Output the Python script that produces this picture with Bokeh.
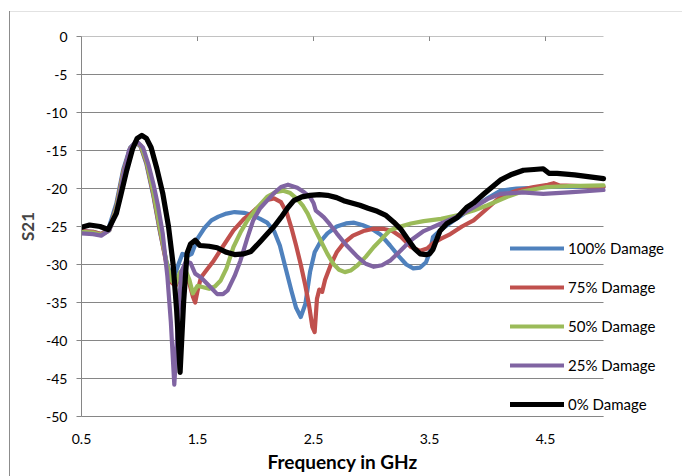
import math
from bokeh.plotting import figure
from bokeh.models import (FixedTicker, Legend, LegendItem, Range1d, Title)
from bokeh.embed import file_html
from bokeh.resources import INLINE

# ---------------- data ----------------
x_ticks = [0.5, 1.5, 2.5, 3.5, 4.5]
x_tick_labels = ["0.5", "1.5", "2.5", "3.5", "4.5"]
y_ticks = [0, -5, -10, -15, -20, -25, -30, -35, -40, -45, -50]
y_tick_labels = ["0", "-5", "-10", "-15", "-20", "-25", "-30", "-35", "-40", "-45", "-50"]
x_axis_min, x_axis_max = 0.5, 5.0

series_names = ["100% Damage", "75% Damage", "50% Damage", "25% Damage", "0% Damage"]

f_100 = [0.5, 0.6, 0.67, 0.73, 0.8, 0.86, 0.92, 0.97, 1.01, 1.06, 1.12, 1.18, 1.23, 1.27, 1.3,
         1.34, 1.37, 1.41, 1.45, 1.5, 1.56, 1.62, 1.68, 1.75, 1.82, 1.9, 1.97, 2.04, 2.1, 2.16,
         2.21, 2.26, 2.31, 2.35, 2.39, 2.43, 2.47, 2.51, 2.56, 2.62, 2.7, 2.78, 2.85, 2.92, 3.0,
         3.08, 3.16, 3.24, 3.3, 3.36, 3.42, 3.47, 3.5, 3.53, 3.6, 3.7, 3.8, 3.9, 4.0, 4.11, 4.25,
         4.4, 4.55, 4.7, 4.85, 5.0]
s_100 = [-25.6, -25.7, -26.0, -25.4, -22.0, -17.5, -14.6, -13.9, -14.5, -16.8, -21.0, -26.0,
         -29.5, -31.5, -31.6, -29.8, -28.6, -28.9, -28.6, -26.6, -25.2, -24.2, -23.7, -23.3,
         -23.1, -23.2, -23.5, -24.0, -24.5, -25.6, -27.5, -30.5, -33.5, -35.7, -36.9, -35.2,
         -31.0, -28.4, -27.0, -25.9, -25.0, -24.6, -24.5, -24.8, -25.3, -26.1, -27.5, -29.0,
         -30.0, -30.5, -30.4, -29.7, -28.5, -26.4, -25.4, -24.3, -23.3, -22.3, -21.3, -20.3,
         -20.0, -19.9, -19.8, -19.8, -19.8, -19.8]

f_75 = [0.5, 0.6, 0.67, 0.74, 0.8, 0.86, 0.92, 0.97, 1.01, 1.06, 1.12, 1.18, 1.23, 1.27, 1.31,
        1.35, 1.39, 1.43, 1.46, 1.48, 1.5, 1.53, 1.58, 1.64, 1.72, 1.81, 1.9, 1.96, 2.04, 2.1,
        2.16, 2.22, 2.27, 2.31, 2.35, 2.39, 2.43, 2.46, 2.49, 2.51, 2.53, 2.55, 2.575, 2.6, 2.65,
        2.7, 2.76, 2.84, 2.93, 3.02, 3.1, 3.18, 3.25, 3.34, 3.42, 3.48, 3.53, 3.6, 3.68, 3.78,
        3.88, 4.0, 4.11, 4.25, 4.4, 4.52, 4.57, 4.62, 4.8, 5.0]
s_75 = [-25.6, -25.7, -26.0, -25.4, -22.4, -17.8, -14.7, -13.9, -14.4, -16.6, -20.8, -25.8,
        -29.8, -32.3, -32.8, -31.5, -31.2, -32.5, -34.2, -35.0, -33.5, -31.7, -30.7, -29.5,
        -27.6, -25.5, -24.0, -23.3, -22.2, -21.5, -21.3, -21.8, -23.2, -25.2, -27.5, -30.0,
        -32.8, -35.2, -38.2, -38.9, -34.5, -33.3, -33.6, -32.0, -30.0, -28.4, -27.2, -26.2,
        -25.6, -25.3, -25.3, -25.6, -26.3, -27.7, -28.2, -27.9, -27.2, -26.6, -26.0, -25.0,
        -24.2, -22.6, -21.1, -20.3, -19.8, -19.5, -19.3, -19.6, -19.7, -19.8]

f_50 = [0.5, 0.6, 0.67, 0.74, 0.8, 0.86, 0.92, 0.97, 1.01, 1.06, 1.12, 1.18, 1.23, 1.27, 1.31,
        1.35, 1.39, 1.43, 1.46, 1.5, 1.55, 1.6, 1.65, 1.7, 1.75, 1.81, 1.87, 1.93, 2.0, 2.1,
        2.17, 2.24, 2.3, 2.36, 2.41, 2.45, 2.5, 2.56, 2.62, 2.67, 2.72, 2.77, 2.82, 2.88, 2.95,
        3.02, 3.09, 3.16, 3.25, 3.34, 3.45, 3.6, 3.75, 3.88, 4.0, 4.17, 4.3, 4.51, 4.7, 5.0]
s_50 = [-25.7, -25.8, -26.1, -25.5, -22.6, -18.0, -14.8, -13.9, -14.3, -16.4, -20.5, -25.5,
        -29.5, -32.0, -32.6, -31.0, -30.5, -32.0, -33.8, -32.8, -33.0, -33.2, -32.9, -32.1,
        -30.5, -27.7, -25.8, -24.2, -22.8, -21.1, -20.5, -20.3, -20.6, -21.4, -22.3, -23.3,
        -25.0, -26.8, -28.6, -29.9, -30.7, -31.0, -30.8, -30.1, -29.0, -27.7, -26.6, -25.5,
        -25.0, -24.6, -24.3, -24.0, -23.5, -22.9, -22.2, -21.1, -20.4, -19.8, -19.7, -19.6]

f_25 = [0.5, 0.6, 0.67, 0.74, 0.8, 0.86, 0.91, 0.97, 1.03, 1.08, 1.12, 1.16, 1.2, 1.24, 1.27,
        1.3, 1.33, 1.36, 1.4, 1.44, 1.48, 1.53, 1.6, 1.67, 1.72, 1.76, 1.82, 1.87, 1.93, 1.98,
        2.04, 2.1, 2.16, 2.22, 2.28, 2.36, 2.42, 2.47, 2.5, 2.52, 2.56, 2.59, 2.64, 2.7, 2.78,
        2.88, 2.95, 3.02, 3.09, 3.16, 3.25, 3.34, 3.45, 3.6, 3.75, 3.88, 4.0, 4.11, 4.3, 4.48,
        4.7, 5.0]
s_25 = [-25.9, -26.0, -26.2, -25.5, -23.0, -18.3, -15.0, -13.7, -14.6, -17.0, -19.4, -22.3,
        -25.9, -31.5, -37.5, -45.8, -38.0, -31.0, -29.6, -29.8, -31.2, -31.7, -32.8, -33.9,
        -33.9, -33.4, -31.5, -29.5, -26.5, -24.2, -22.6, -21.6, -20.6, -19.8, -19.5, -19.9,
        -20.5, -21.1, -21.9, -22.9, -23.4, -23.8, -24.7, -25.9, -27.4, -29.0, -29.9, -30.3,
        -30.1, -29.5, -28.2, -26.8, -25.6, -24.6, -23.6, -22.5, -21.4, -20.7, -20.5, -20.7,
        -20.5, -20.2]

f_0 = [0.5, 0.57, 0.66, 0.73, 0.8, 0.84, 0.89, 0.94, 0.98, 1.02, 1.06, 1.1, 1.15, 1.2, 1.25,
       1.29, 1.32, 1.35, 1.38, 1.41, 1.44, 1.48, 1.52, 1.6, 1.67, 1.75, 1.82, 1.9, 1.96, 2.04,
       2.1, 2.16, 2.22, 2.28, 2.33, 2.4, 2.47, 2.55, 2.62, 2.7, 2.76, 2.83, 2.9, 2.97, 3.05,
       3.12, 3.19, 3.25, 3.31, 3.37, 3.42, 3.47, 3.5, 3.53, 3.56, 3.59, 3.65, 3.74, 3.82, 3.88,
       3.97, 4.04, 4.11, 4.2, 4.31, 4.4, 4.48, 4.53, 4.6, 4.75, 4.9, 5.0]
s_0 = [-25.1, -24.8, -25.0, -25.4, -23.3, -20.8, -17.6, -14.8, -13.4, -13.0, -13.4, -14.6,
       -17.4, -20.6, -25.0, -30.0, -36.0, -44.2, -35.0, -28.5, -27.3, -26.8, -27.5, -27.6,
       -27.8, -28.4, -28.7, -28.6, -28.3, -27.0, -26.0, -25.0, -23.8, -22.5, -21.6, -21.1,
       -20.9, -20.8, -20.9, -21.2, -21.6, -21.9, -22.2, -22.6, -23.0, -23.5, -24.4, -25.3,
       -26.6, -27.9, -28.6, -28.7, -28.6, -28.0, -26.8, -25.6, -24.6, -23.8, -22.5, -21.9,
       -20.7, -19.8, -18.9, -18.2, -17.6, -17.5, -17.4, -18.0, -18.0, -18.2, -18.5, -18.7]

freqs = [f_100, f_75, f_50, f_25, f_0]
values = [s_100, s_75, s_50, s_25, s_0]
colors = ["#4F81BD", "#C0504D", "#9BBB59", "#8064A2", "#000000"]
widths = [4.2, 4.2, 4.2, 4.2, 5.2]

# ---------------- figure ----------------
FONT = "Lato"
GRID = "#868686"
W, H = 682, 476
B_LEFT, B_TOP, B_BOTTOM, B_RIGHT = 81, 36, 60, 10
PX_PER_GHZ = 116.0
frame_w = W - B_LEFT - B_RIGHT
x_view_max = x_axis_min + frame_w / PX_PER_GHZ  # frame extends right to hold the legend

p = figure(width=W, height=H, output_backend="svg", toolbar_location=None,
           x_range=Range1d(x_axis_min, x_view_max), y_range=Range1d(-50, 0),
           min_border_left=B_LEFT, min_border_right=B_RIGHT,
           min_border_top=B_TOP, min_border_bottom=B_BOTTOM,
           background_fill_color="white", border_fill_alpha=0)
p.outline_line_color = None
# chart-area border (left and top edges visible in the reference), drawn behind the canvas
p.styles = {
    "background-color": "white",
    "background-image": "linear-gradient(#8c8c8c, #8c8c8c), linear-gradient(#e2e2e2, #e2e2e2)",
    "background-size": "1px 470px, 680px 1px",
    "background-position": "9px 11px, 9px 11px",
    "background-repeat": "no-repeat",
}

# horizontal gridlines limited to the axis extent
p.xgrid.grid_line_color = None
p.ygrid.grid_line_color = None
p.segment(x0=[x_axis_min] * len(y_ticks), x1=[x_axis_max] * len(y_ticks),
          y0=y_ticks, y1=y_ticks, line_color=GRID, line_width=1, level="underlay")

# tick marks hanging down from the top edge (x axis crosses at 0)
p.scatter(x=x_ticks, y=[0] * len(x_ticks), marker="dash", angle=math.pi / 2, size=9,
          line_color=GRID, line_width=1, level="underlay")

xa = p.xaxis[0]
xa.ticker = FixedTicker(ticks=x_ticks)
xa.bounds = (x_axis_min, x_axis_max)
xa.major_label_overrides = {t: l for t, l in zip(x_ticks, x_tick_labels)}
xa.major_tick_in = 0
xa.major_tick_out = 0
xa.minor_tick_in = 0
xa.minor_tick_out = 0
xa.axis_line_color = GRID
xa.major_label_standoff = 17
xa.major_label_text_font = FONT
xa.major_label_text_font_size = "14px"
xa.major_label_text_color = "#000000"

# x-axis title centred on the 0.5-5.0 axis (the frame is wider because of the legend)
axis_center_px = (x_axis_max - x_axis_min) / 2 * PX_PER_GHZ
title_w_est = 150
xtitle = Title(text="Frequency in GHz", align="left",
               offset=axis_center_px - title_w_est / 2, standoff=3,
               text_font=FONT, text_font_style="bold", text_font_size="19px",
               text_color="#000000")
p.add_layout(xtitle, "below")

ya = p.yaxis[0]
ya.ticker = FixedTicker(ticks=y_ticks)
ya.major_label_overrides = {t: l for t, l in zip(y_ticks, y_tick_labels)}
ya.major_tick_in = 0
ya.major_tick_out = 5
ya.major_tick_line_color = GRID
ya.minor_tick_in = 0
ya.minor_tick_out = 0
ya.axis_line_color = GRID
ya.major_label_standoff = 9
ya.major_label_text_font = FONT
ya.major_label_text_font_size = "14px"
ya.major_label_text_color = "#000000"
ya.axis_label = "S21"
ya.axis_label_text_font = FONT
ya.axis_label_text_font_style = "bold"
ya.axis_label_text_font_size = "17px"
ya.axis_label_standoff = 5

items = []
for name, fx, fy, c, w in zip(series_names, freqs, values, colors, widths):
    r = p.line(fx, fy, line_color=c, line_width=w, line_join="round", line_cap="round")
    items.append(LegendItem(label=name, renderers=[r]))

legend = Legend(items=items, location=(429, 2), orientation="vertical",
                background_fill_alpha=0, border_line_color=None,
                glyph_width=54, glyph_height=20, label_height=20, spacing=19,
                padding=0, margin=0, label_standoff=4,
                label_text_font=FONT, label_text_font_size="15px",
                label_text_color="#000000")
p.add_layout(legend)

open("out.html", "w").write(file_html(p, INLINE))
